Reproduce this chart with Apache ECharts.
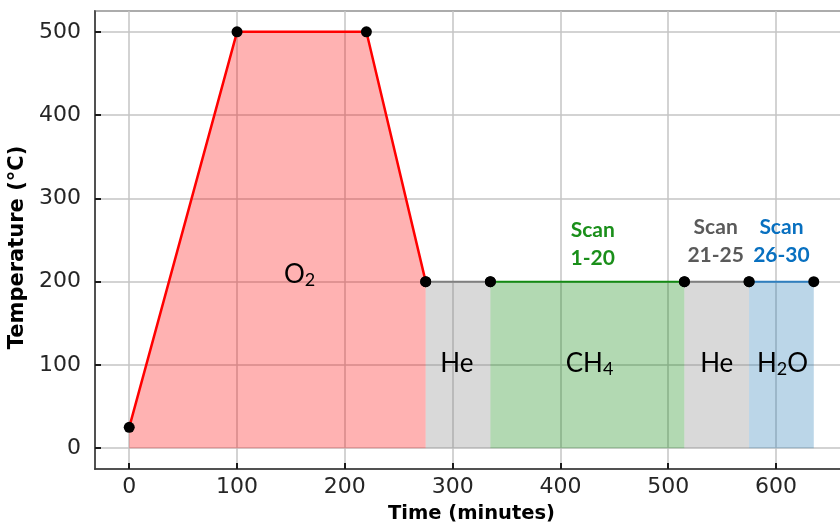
<!DOCTYPE html>
<html>
<head>
<meta charset="utf-8">
<script src="https://cdn.jsdelivr.net/npm/echarts@6/dist/echarts.min.js"></script>
<style>
  html, body { margin: 0; padding: 0; background: #ffffff; }
  #chart { width: 840px; height: 524px; }
</style>
</head>
<body>
<div id="chart"></div>
<script>
// Temperature programme: each gas phase as time/temperature breakpoints
const phaseNames  = ['O2', 'He', 'CH4', 'He', 'H2O'];
const phaseTimes  = [[0, 100, 220, 275], [275, 335], [335, 515], [515, 575], [575, 635]];
const phaseTemps  = [[25, 500, 500, 200], [200, 200], [200, 200], [200, 200], [200, 200]];
const phaseColors = ['#ff0000', '#808080', '#138a13', '#808080', '#2f7fbf'];
const phaseFills  = ['rgba(255,0,0,0.3)', 'rgba(128,128,128,0.3)', 'rgba(0,128,0,0.3)',
                     'rgba(128,128,128,0.3)', 'rgba(31,119,180,0.3)'];

// Gas name labels (rich-text markup for subscripts)
const gasText = ['O{s|2}', 'He', 'CH{s|4}', 'He', 'H{s|2}O'];
const gasX    = [158, 304, 427, 545, 606];
const gasY    = [209, 102, 102, 102, 102];

// Scan range annotations
const scanText   = ['Scan\n1-20', 'Scan\n21-25', 'Scan\n26-30'];
const scanX      = [430, 544, 605];
const scanY      = [245, 249, 249];
const scanColors = ['#1a8f1a', '#5a5a5a', '#0870c0'];

// Axis extents (data range plus 5% margin)
const xMin = -31.75, xMax = 666.75;
const yMin = -25, yMax = 525;

const chart = echarts.init(document.getElementById('chart'), null, { renderer: 'canvas' });

const series = [];
phaseTimes.forEach(function (times, i) {
  series.push({
    name: phaseNames[i],
    type: 'line',
    data: times.map(function (t, j) { return [t, phaseTemps[i][j]]; }),
    symbol: 'none',
    lineStyle: { color: phaseColors[i], width: i === 0 ? 2.5 : 2 },
    areaStyle: { color: phaseFills[i], origin: 0, opacity: 1 },
    z: 3,
    silent: true,
    animation: false
  });
});

// Breakpoint markers
const markerPts = [];
phaseTimes.forEach(function (times, i) {
  times.forEach(function (t, j) {
    markerPts.push([t, phaseTemps[i][j]]);
  });
});
series.push({
  type: 'scatter',
  data: markerPts,
  symbol: 'circle',
  symbolSize: 11,
  itemStyle: { color: '#000000', opacity: 1 },
  z: 5,
  silent: true,
  animation: false
});

// Gas labels
series.push({
  type: 'scatter',
  data: gasX.map(function (x, i) { return { value: [x, gasY[i]], text: gasText[i] }; }),
  symbolSize: 1,
  itemStyle: { color: 'rgba(0,0,0,0)', opacity: 1 },
  label: {
    show: true,
    position: 'inside',
    formatter: function (p) { return '{m|' + p.data.text.replace(/\{s\|(\d)\}/g, '}{s|$1}{m|') + '}'; },
    rich: {
      m: { fontFamily: 'Lato', fontSize: 26, color: '#000000', lineHeight: 30 },
      s: { fontFamily: 'Lato', fontSize: 18, color: '#000000', lineHeight: 16, verticalAlign: 'bottom' }
    }
  },
  z: 6,
  silent: true,
  animation: false
});

// Scan annotations
series.push({
  type: 'scatter',
  data: scanX.map(function (x, i) {
    return {
      value: [x, scanY[i]],
      label: { formatter: scanText[i], color: scanColors[i] }
    };
  }),
  symbolSize: 1,
  itemStyle: { color: 'rgba(0,0,0,0)', opacity: 1 },
  label: {
    show: true,
    position: 'inside',
    fontFamily: 'Lato',
    fontWeight: 'bold',
    fontSize: 21,
    lineHeight: 28
  },
  z: 6,
  silent: true,
  animation: false
});

const axisCommon = {
  type: 'value',
  axisLine: { show: true, onZero: false, lineStyle: { color: '#333333', width: 1.5 } },
  axisTick: { show: true, inside: true, length: 6, lineStyle: { color: '#1a1a1a', width: 2 } },
  splitLine: { show: true, lineStyle: { color: '#c4c4c4', width: 1.5 } },
  axisLabel: {
    showMinLabel: false, showMaxLabel: false,
    fontFamily: 'DejaVu Sans', fontSize: 22, color: '#262626'
  },
  nameLocation: 'middle'
};

chart.setOption({
  animation: false,
  backgroundColor: '#ffffff',
  grid: {
    left: 95, top: 11, right: -8, bottom: 55,
    show: true, borderColor: '#333333', borderWidth: 1.5,
    containLabel: false,
    outerBoundsMode: 'none'
  },
  xAxis: Object.assign({}, axisCommon, {
    min: xMin, max: xMax,
    name: 'Time (minutes)', nameGap: 35,
    nameTextStyle: { fontFamily: 'DejaVu Sans', fontWeight: 'bold', fontSize: 19.5, color: '#000000' },
    axisLabel: Object.assign({}, axisCommon.axisLabel, { margin: 7 })
  }),
  yAxis: Object.assign({}, axisCommon, {
    min: yMin, max: yMax,
    name: 'Temperature (°C)', nameGap: 59,
    nameTextStyle: { fontFamily: 'DejaVu Sans', fontWeight: 'bold', fontSize: 21, color: '#000000',
                     padding: [0, 15, 0, 0] },
    axisLabel: Object.assign({}, axisCommon.axisLabel, { margin: 14 })
  }),
  series: series
});
</script>
</body>
</html>
